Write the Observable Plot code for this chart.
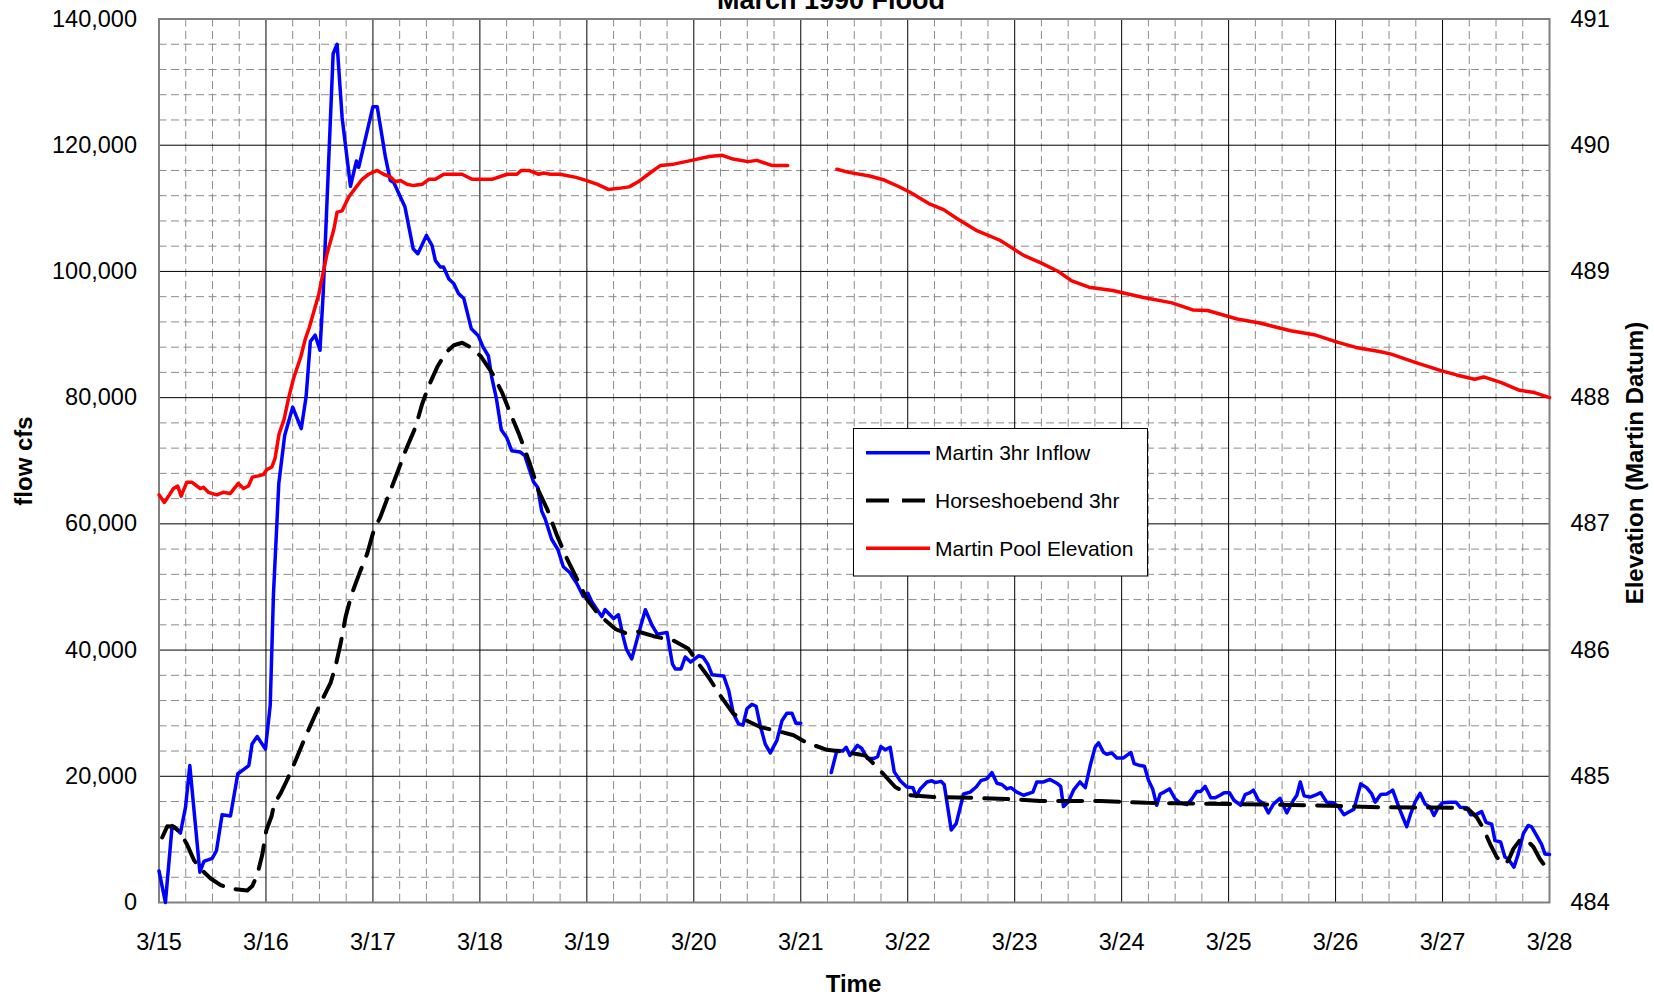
<!DOCTYPE html>
<html>
<head>
<meta charset="utf-8">
<script src="https://cdn.jsdelivr.net/npm/d3@7"></script>
<script src="https://cdn.jsdelivr.net/npm/@observablehq/plot@0.6"></script>
<style>
  html, body { margin: 0; padding: 0; background: #fff; }
  #chart svg { display: block; }
</style>
</head>
<body>
<div id="chart"></div>
<script>
// ---- data ----
const dayLabels = ["3/15","3/16","3/17","3/18","3/19","3/20","3/21","3/22","3/23","3/24","3/25","3/26","3/27","3/28"];
const flowTicks = [0, 20000, 40000, 60000, 80000, 100000, 120000, 140000];
const elevTicks = [484, 485, 486, 487, 488, 489, 490, 491];
const seriesNames = ["Martin 3hr Inflow", "Horseshoebend 3hr", "Martin Pool Elevation"];

// [day offset from 3/15 00:00, flow cfs]
const inflow = [
[0.0,5000],[0.06,0],[0.123,12200],[0.2,11000],[0.248,15100],[0.288,21700],[0.382,4800],[0.42,6500],[0.497,7000],[0.537,8200],[0.59,13900],[0.668,13700],[0.737,20400],[0.84,21700],[0.87,25100],[0.918,26300],[0.995,24300],[1.04,31300],[1.07,48800],[1.12,66400],[1.175,74000],[1.25,78500],[1.33,75100],[1.375,80100],[1.415,88900],[1.46,89900],[1.505,87500],[1.535,96500],[1.628,134500],[1.665,136000],[1.712,124400],[1.79,113500],[1.846,117500],[1.867,116500],[2.0,126100],[2.04,126100],[2.117,118100],[2.163,114400],[2.195,114100],[2.30,110200],[2.376,103600],[2.42,102800],[2.50,105700],[2.553,104100],[2.584,101700],[2.63,100700],[2.66,100700],[2.71,98800],[2.755,98100],[2.80,96500],[2.85,95700],[2.92,90900],[2.985,89800],[3.03,88000],[3.08,86600],[3.11,83300],[3.155,79800],[3.20,74900],[3.25,73700],[3.297,71600],[3.375,71400],[3.42,70800],[3.50,66700],[3.54,65800],[3.578,62000],[3.61,60800],[3.67,57600],[3.73,55900],[3.78,53200],[3.84,52300],[3.905,50600],[3.967,48500],[4.01,49000],[4.045,47700],[4.14,45300],[4.17,46400],[4.25,45000],[4.295,45600],[4.34,42100],[4.37,40100],[4.42,38600],[4.484,42600],[4.547,46400],[4.61,43900],[4.66,42500],[4.749,42800],[4.80,37800],[4.827,37000],[4.88,37000],[4.92,38900],[4.97,38100],[5.045,39100],[5.086,38900],[5.13,37800],[5.17,36100],[5.279,35900],[5.326,33600],[5.37,29900],[5.418,28300],[5.46,28100],[5.497,30700],[5.543,31400],[5.583,31100],[5.62,28100],[5.668,25100],[5.715,23700],[5.777,25700],[5.824,28800],[5.87,30000],[5.917,30000],[5.955,28400],[6.0,28400],
[6.1,NaN],
[6.285,20600],[6.338,24100],[6.393,24000],[6.425,24600],[6.46,23300],[6.53,24900],[6.571,24400],[6.624,22800],[6.68,22800],[6.718,23100],[6.749,24700],[6.79,24200],[6.836,24600],[6.874,20700],[6.93,19300],[6.992,18300],[7.048,18200],[7.08,16800],[7.117,18000],[7.18,19100],[7.225,19300],[7.257,19000],[7.31,19200],[7.341,18700],[7.407,11500],[7.453,12500],[7.522,17200],[7.584,17500],[7.64,18300],[7.684,19300],[7.74,19600],[7.787,20600],[7.834,18900],[7.88,18700],[7.927,18000],[7.965,18200],[8.02,17500],[8.083,17000],[8.17,17500],[8.207,19100],[8.27,19100],[8.33,19500],[8.394,18900],[8.43,18400],[8.456,15200],[8.5,15900],[8.55,17800],[8.61,19100],[8.66,18200],[8.706,21700],[8.752,24600],[8.784,25300],[8.83,23800],[8.86,23500],[8.908,23700],[8.955,22900],[9.017,22900],[9.086,23800],[9.117,22000],[9.173,21700],[9.213,21600],[9.25,19400],[9.29,18000],[9.328,15400],[9.36,17200],[9.397,17500],[9.447,18000],[9.5,16400],[9.547,15800],[9.609,15500],[9.656,16400],[9.703,17600],[9.74,17600],[9.78,18400],[9.833,16600],[9.874,16600],[9.92,17000],[9.958,17400],[10.008,17400],[10.05,16200],[10.114,15400],[10.154,17100],[10.2,17400],[10.232,17800],[10.279,16200],[10.325,15700],[10.372,14200],[10.419,15600],[10.481,16500],[10.544,14200],[10.606,16200],[10.638,17000],[10.67,19100],[10.706,16900],[10.762,16700],[10.81,17000],[10.861,17400],[10.917,15900],[10.98,15800],[11.026,15200],[11.079,13900],[11.119,14300],[11.172,14800],[11.235,18800],[11.29,18200],[11.338,17200],[11.37,15900],[11.422,17100],[11.478,17200],[11.534,17800],[11.603,14600],[11.665,12000],[11.703,14100],[11.743,15900],[11.79,17300],[11.837,15600],[11.883,15100],[11.92,13800],[11.961,15100],[12.0,15800],[12.07,15900],[12.126,15900],[12.164,15100],[12.226,15000],[12.264,13900],[12.32,14000],[12.366,14400],[12.407,12700],[12.46,12400],[12.49,9800],[12.543,9600],[12.583,7200],[12.615,6900],[12.668,5600],[12.708,7700],[12.755,10900],[12.801,12200],[12.833,12000],[12.88,10600],[12.926,9200],[12.957,7700],[13.0,7600]
];

// [day offset, flow cfs]
const horseshoebend = [
[0.03,10300],[0.078,12100],[0.14,12000],[0.2,11100],[0.265,9100],[0.327,6700],[0.39,5300],[0.483,3800],[0.576,2750],[0.67,2200],[0.826,1900],[0.872,2600],[0.919,4400],[0.966,7600],[1.003,11400],[1.053,13700],[1.075,15500],[1.137,17300],[1.2,19500],[1.277,22500],[1.37,26300],[1.433,28700],[1.51,31600],[1.604,34800],[1.65,37400],[1.70,41200],[1.745,45300],[1.80,48800],[1.87,52000],[1.947,55300],[2.01,59100],[2.07,61100],[2.134,64000],[2.21,67300],[2.305,71600],[2.4,75400],[2.46,79000],[2.523,81900],[2.6,84800],[2.68,87100],[2.757,88300],[2.835,88700],[2.91,88000],[3.006,86600],[3.115,83900],[3.21,80700],[3.30,76900],[3.364,74300],[3.46,69900],[3.55,65200],[3.63,62300],[3.72,58200],[3.816,54400],[3.91,51200],[4.003,48000],[4.097,45900],[4.175,44700],[4.27,43300],[4.36,42700],[4.486,42900],[4.625,42200],[4.811,41500],[4.95,40200],[5.045,37800],[5.138,35700],[5.247,32800],[5.37,29900],[5.497,28800],[5.62,27800],[5.777,27200],[5.933,26500],[6.058,25300],[6.245,24200],[6.431,23800],[6.603,23300],[6.727,21200],[6.883,18300],[7.023,17000],[7.241,16700],[7.584,16600],[7.927,16400],[8.238,16100],[8.8,16100],[9.235,15800],[10.014,15600],[10.79,15400],[11.42,15100],[12.1,15000],[12.241,14800],[12.32,13500],[12.382,11700],[12.444,9300],[12.507,7200],[12.57,6100],[12.615,6600],[12.662,8500],[12.724,9900],[12.786,9900],[12.85,8800],[12.91,6900],[13.0,4800]
];

// [day offset, pool elevation ft, Martin datum]
const poolElevation = [
[0.0,487.23],[0.05,487.17],[0.09,487.22],[0.135,487.28],[0.175,487.3],[0.207,487.22],[0.26,487.33],[0.306,487.33],[0.385,487.28],[0.415,487.29],[0.462,487.25],[0.54,487.23],[0.6,487.25],[0.665,487.24],[0.742,487.32],[0.79,487.28],[0.836,487.3],[0.873,487.37],[0.93,487.38],[0.975,487.39],[1.008,487.43],[1.055,487.45],[1.085,487.52],[1.122,487.71],[1.17,487.83],[1.21,487.99],[1.257,488.15],[1.328,488.33],[1.366,488.46],[1.403,488.55],[1.494,488.82],[1.571,489.14],[1.634,489.33],[1.665,489.47],[1.712,489.48],[1.774,489.59],[1.836,489.66],[1.899,489.73],[1.96,489.77],[2.04,489.80],[2.1,489.77],[2.163,489.75],[2.21,489.71],[2.257,489.72],[2.319,489.69],[2.38,489.68],[2.46,489.69],[2.522,489.73],[2.584,489.73],[2.662,489.77],[2.833,489.77],[2.927,489.73],[3.005,489.73],[3.113,489.73],[3.254,489.77],[3.347,489.77],[3.385,489.80],[3.456,489.80],[3.55,489.77],[3.596,489.78],[3.659,489.77],[3.75,489.77],[3.9,489.745],[4.0,489.72],[4.1,489.69],[4.2,489.65],[4.313,489.66],[4.396,489.67],[4.48,489.71],[4.59,489.78],[4.69,489.84],[4.812,489.85],[4.979,489.88],[5.145,489.91],[5.267,489.92],[5.367,489.89],[5.505,489.87],[5.59,489.88],[5.728,489.84],[5.878,489.84],
[6.1,NaN],
[6.338,489.81],[6.449,489.785],[6.643,489.756],[6.781,489.724],[6.92,489.671],[7.03,489.623],[7.197,489.538],[7.335,489.49],[7.474,489.411],[7.64,489.326],[7.862,489.247],[8.084,489.127],[8.25,489.066],[8.417,488.995],[8.528,488.928],[8.694,488.875],[8.916,488.849],[9.193,488.796],[9.47,488.751],[9.664,488.695],[9.803,488.69],[10.08,488.623],[10.302,488.589],[10.58,488.53],[10.8,488.499],[11.023,488.438],[11.19,488.398],[11.41,488.366],[11.52,488.345],[11.744,488.279],[11.993,488.212],[12.13,488.18],[12.3,488.146],[12.385,488.164],[12.55,488.119],[12.72,488.058],[12.86,488.04],[13.0,488.0]
];

// ---- scales shared by both y axes ----
const elevMin = elevTicks[0], elevMax = elevTicks[elevTicks.length - 1];
const flowMax = flowTicks[flowTicks.length - 1];
const elevToFlow = e => (e - elevMin) / (elevMax - elevMin) * flowMax;

const dayMajor = d3.range(0, dayLabels.length);
const dayMinor = d3.range(0, dayLabels.length - 1 + 1e-9, 0.25).filter(d => d % 1 !== 0);
const flowMinor = d3.range(0, flowMax + 1, 4000).filter(v => v % 20000 !== 0);

const BLUE = "#0000ff", RED = "#ff0000", BLACK = "#000000";
const DASH = "24,13";

const chart = Plot.plot({
  width: 1654,
  height: 998,
  marginLeft: 158.5,
  marginRight: 105,
  marginTop: 18.5,
  marginBottom: 96,
  style: { fontFamily: "'Liberation Sans', Arial, sans-serif", fontSize: "23.5px", color: "#000", background: "#fff" },
  x: { domain: [0, dayLabels.length - 1] },
  y: { domain: [0, flowMax] },
  marks: [
    Plot.ruleX(dayMinor, { stroke: "#8c8c8c", strokeWidth: 1, strokeDasharray: "8,4.5" }),
    Plot.ruleY(flowMinor, { stroke: "#8c8c8c", strokeWidth: 1, strokeDasharray: "8,4.5" }),
    Plot.ruleX(dayMajor, { stroke: "#000", strokeWidth: 1 }),
    Plot.ruleY(flowTicks, { stroke: "#000", strokeWidth: 1 }),
    Plot.frame({ stroke: "#808080", strokeWidth: 2 }),
    Plot.axisX({ ticks: dayMajor, tickFormat: d => dayLabels[d], tickSize: 0, tickPadding: 31, label: null }),
    Plot.axisY({ ticks: flowTicks, tickFormat: d3.format(","), tickSize: 0, tickPadding: 22, label: null }),
    Plot.axisY({ anchor: "right", ticks: elevTicks.map(elevToFlow), tickFormat: (d, i) => String(elevTicks[i]), tickSize: 0, tickPadding: 21, label: null }),
    Plot.line(inflow, { x: d => d[0], y: d => d[1], stroke: BLUE, strokeWidth: 3.5, curve: "linear" }),
    Plot.line(horseshoebend, { x: d => d[0], y: d => d[1], stroke: BLACK, strokeWidth: 4, strokeDasharray: DASH, curve: "linear" }),
    Plot.line(poolElevation, { x: d => d[0], y: d => elevToFlow(d[1]), stroke: RED, strokeWidth: 3.5, curve: "linear" })
  ]
});

document.getElementById("chart").appendChild(chart);

// ---- title, axis titles and legend ----
const svg = d3.select(chart);
const font = "'Liberation Sans', Arial, sans-serif";

svg.append("text")
  .attr("x", 831).attr("y", 8.5)
  .attr("text-anchor", "middle")
  .attr("font-family", font).attr("font-size", 27).attr("font-weight", "bold")
  .attr("fill", "#000")
  .text("March 1990 Flood");

svg.append("text")
  .attr("transform", "translate(24,461) rotate(-90)")
  .attr("text-anchor", "middle").attr("dy", "0.35em")
  .attr("font-family", font).attr("font-size", 24).attr("font-weight", "bold")
  .attr("fill", "#000")
  .text("flow cfs");

svg.append("text")
  .attr("transform", "translate(1635,463) rotate(-90)")
  .attr("text-anchor", "middle").attr("dy", "0.35em")
  .attr("font-family", font).attr("font-size", 24).attr("font-weight", "bold")
  .attr("fill", "#000")
  .text("Elevation (Martin Datum)");

svg.append("text")
  .attr("x", 853.5).attr("y", 984)
  .attr("text-anchor", "middle").attr("dy", "0.35em")
  .attr("font-family", font).attr("font-size", 24).attr("font-weight", "bold")
  .attr("fill", "#000")
  .text("Time");

const lg = svg.append("g").attr("transform", "translate(853.5,428.5)");
lg.append("rect").attr("width", 294).attr("height", 147.5)
  .attr("fill", "#fff").attr("stroke", "#000").attr("stroke-width", 1);
const legendStyles = [
  { stroke: BLUE, width: 3.5, dash: null },
  { stroke: BLACK, width: 4, dash: "23,13" },
  { stroke: RED, width: 3.5, dash: null }
];
seriesNames.forEach((name, i) => {
  const y = 24.2 + i * 47.8;
  const ln = lg.append("line").attr("x1", 12.5).attr("x2", 76.5).attr("y1", y).attr("y2", y)
    .attr("stroke", legendStyles[i].stroke).attr("stroke-width", legendStyles[i].width);
  if (legendStyles[i].dash) ln.attr("stroke-dasharray", legendStyles[i].dash);
  lg.append("text").attr("x", 81.5).attr("y", y).attr("dy", "0.35em")
    .attr("text-anchor", "start")
    .attr("font-family", font).attr("font-size", 21).attr("fill", "#000")
    .text(name);
});
</script>
</body>
</html>
